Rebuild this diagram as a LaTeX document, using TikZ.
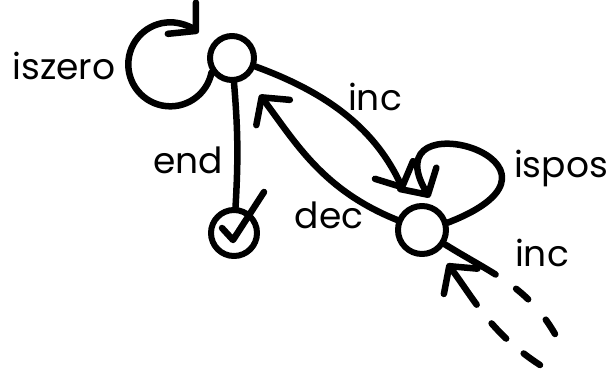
\documentclass[tikz,border=0pt]{standalone}
\usepackage{fontspec}
\setmainfont{Poppins}
\usetikzlibrary{arrows.meta}
\begin{document}
\begin{tikzpicture}[x=1pt,y=1pt,
  line width=6.5pt, line cap=round, line join=round,
  state/.style={circle, draw, line width=6pt, inner sep=0pt, minimum size=#1},
  tip/.style={-{Straight Barb[length=19pt,width=42pt,round]}},
  lbl/.style={font=\fontsize{36}{40}\selectfont, anchor=base, inner sep=0pt}]
\useasboundingbox (0,0) rectangle (611,376);
% states
\node[state=44] (q0) at (232,318) {};
\node[state=48] (q1) at (422,146) {};
\node[state=46] (qf) at (234,143) {};
\coordinate (e) at (555,42);
\coordinate (s) at (540,11);
% check mark in final state
\draw ([shift={(-12,5)}]qf.center) -- ++(11,-12) -- ++(31,48);
% iszero loop
\draw[tip] (q0.215) arc[start angle=-11, end angle=-312, radius=42];
% end
\draw (q0) to[bend left=4] (qf);
% inc
\draw[tip, shorten >=17pt] (q0) to[out=-20, in=115] (q1);
% dec
\draw[tip, shorten >=21pt] (q1) to[out=158, in=-53] (q0);
% ispos loop
\draw[tip, shorten >=10pt] (q1.16) .. controls +(155,60) and +(-65,110) .. (q1.62);
% outgoing inc (dashed tail)
\draw[dash pattern=on 59pt off 25pt on 16pt off 27pt on 40pt off 10pt] (q1) to[out=-32, in=120] (e);
% incoming dashed arrow
\draw[tip, dash pattern=on 20pt off 23pt on 21pt off 24pt on 100pt, shorten >=15pt] (s) to[out=147, in=-53] (q1);
% labels
\node[lbl] (l1) at (64,297) {iszero};
\node[lbl] (l2) at (375,266) {inc};
\node[lbl] (l3) at (188,203) {end};
\node[lbl] (l4) at (329,148) {dec};
\node[lbl] (l5) at (561,199) {ispos};
\node[lbl] (l6) at (542,110) {inc};
\end{tikzpicture}
\end{document}
